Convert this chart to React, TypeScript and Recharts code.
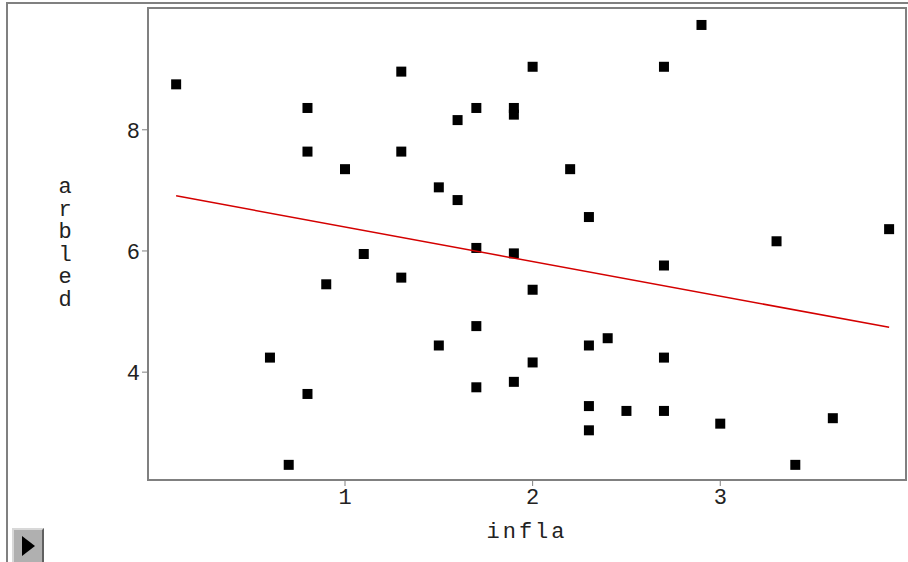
import {
  ScatterChart,
  Scatter,
  XAxis,
  YAxis,
  ReferenceArea,
} from "recharts";

// scatter points
const inflaValues = [
  0.1, 0.6, 0.7, 0.8, 0.8, 0.8, 0.9, 1.0, 1.1, 1.3, 1.3, 1.3, 1.5, 1.5, 1.6,
  1.6, 1.7, 1.7, 1.7, 1.7, 1.9, 1.9, 1.9, 1.9, 2.0, 2.0, 2.0, 2.2, 2.3, 2.3,
  2.3, 2.3, 2.4, 2.5, 2.7, 2.7, 2.7, 2.7, 2.9, 3.0, 3.3, 3.4, 3.6, 3.9,
];
const arbledValues = [
  8.75, 4.24, 2.47, 8.36, 7.64, 3.64, 5.45, 7.35, 5.95, 8.96, 7.64, 5.56, 7.05,
  4.44, 8.16, 6.84, 8.36, 6.05, 4.76, 3.75, 8.36, 8.25, 5.96, 3.84, 9.04, 5.36,
  4.16, 7.35, 6.56, 4.44, 3.44, 3.04, 4.56, 3.36, 9.04, 5.76, 4.24, 3.36, 9.73,
  3.15, 6.16, 2.47, 3.24, 6.36,
];

// fitted line end points
const fitX = [0.1, 3.9];
const fitY = [6.91, 4.74];

const xTicks = [1, 2, 3];
const yTicks = [4, 6, 8];
const xDomain = [-0.05, 3.99];
const yDomain = [2.22, 10.01];
const xLabel = "infla";
const yLabel = "arbled";

const points = inflaValues.map((x, i) => ({ x, y: arbledValues[i] }));
const fit = fitX.map((x, i) => ({ x, y: fitY[i] }));

const font = "'Liberation Mono', 'Courier New', monospace";
const frame = "#808080";

const Square = (props: any) => (
  <rect x={props.cx - 5} y={props.cy - 5} width={10} height={10} fill="#000" />
);

const YLabel = () => (
  <text x={65} y={193} fontFamily={font} fontSize={22} fill="#222" textAnchor="middle">
    {yLabel.split("").map((c, i) => (
      <tspan key={i} x={65} dy={i === 0 ? 0 : 22.5}>
        {c}
      </tspan>
    ))}
  </text>
);

export default function App() {
  return (
    <div style={{ position: "absolute", left: 0, top: 0, width: 908, height: 562, background: "#fff" }}>
      <div
        style={{
          position: "absolute",
          left: 6,
          top: 2,
          width: 910,
          height: 570,
          borderLeft: `2px solid ${frame}`,
          borderTop: `2px solid ${frame}`,
        }}
      />
      <ScatterChart
        width={908}
        height={562}
        margin={{ top: 8, right: 2, bottom: 42, left: 88 }}
        style={{ position: "absolute", left: 0, top: 0 }}
      >
        <XAxis
          type="number"
          dataKey="x"
          domain={xDomain}
          ticks={xTicks}
          allowDataOverflow
          height={40}
          tickSize={6}
          tickLine={{ stroke: frame }}
          axisLine={false}
          tick={{ fontFamily: font, fontSize: 22, fill: "#222" }}
          label={{ value: xLabel, position: "bottom", offset: 2, fontFamily: font, fontSize: 22, fill: "#222", letterSpacing: 3 }}
        />
        <YAxis
          type="number"
          dataKey="y"
          domain={yDomain}
          ticks={yTicks}
          allowDataOverflow
          width={60}
          tickSize={6}
          tickLine={{ stroke: frame }}
          axisLine={false}
          tick={{ fontFamily: font, fontSize: 22, fill: "#222" }}
          label={<YLabel />}
        />
        <ReferenceArea
          x1={xDomain[0]}
          x2={xDomain[1]}
          y1={yDomain[0]}
          y2={yDomain[1]}
          fill="none"
          fillOpacity={0}
          stroke={frame}
          strokeWidth={2}
          ifOverflow="visible"
        />
        <Scatter data={points} fill="#000" shape={<Square />} isAnimationActive={false} />
        <Scatter
          data={fit}
          line={{ stroke: "#d40000", strokeWidth: 1.5 }}
          shape={() => null}
          isAnimationActive={false}
        />
      </ScatterChart>
      <div
        style={{
          position: "absolute",
          left: 12,
          top: 528,
          width: 32,
          height: 34,
          background: "#b0b0b0",
          borderTop: "2px solid #d8d8d8",
          borderLeft: "2px solid #d8d8d8",
          borderRight: "2px solid #606060",
          boxSizing: "border-box",
        }}
      >
        <svg width={28} height={32} style={{ display: "block" }}>
          <polygon points="8,6 21,16 8,26" fill="#000" />
        </svg>
      </div>
    </div>
  );
}
